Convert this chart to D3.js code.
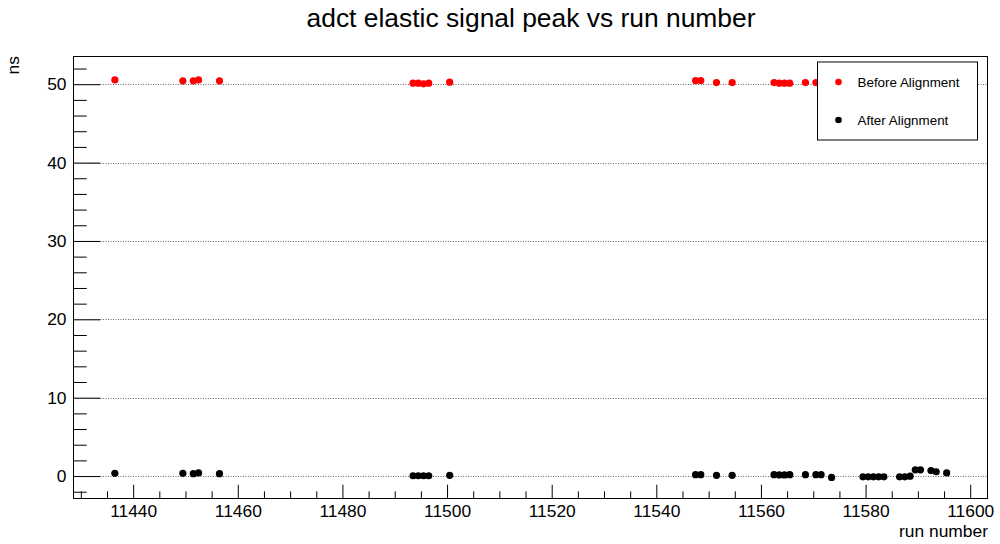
<!DOCTYPE html>
<html>
<head>
<meta charset="utf-8">
<script src="https://cdn.jsdelivr.net/npm/d3@7"></script>
<style>
  html, body { margin: 0; padding: 0; background: #fff; }
  svg { display: block; font-family: "Liberation Sans", Arial, Helvetica, sans-serif; }
</style>
</head>
<body>
<svg id="chart" width="1000" height="544"></svg>
<script>
// Run numbers (each point sits at the centre of its run bin)
const runsBefore = [11436, 11449, 11451, 11452, 11456, 11493, 11494, 11495, 11496, 11500,
                    11547, 11548, 11551, 11554, 11562, 11563, 11564, 11565, 11568, 11570];
const peakBefore = [50.55, 50.43, 50.43, 50.55, 50.43, 50.13, 50.13, 50.05, 50.13, 50.26,
                    50.47, 50.47, 50.21, 50.21, 50.21, 50.13, 50.13, 50.13, 50.21, 50.21];

const runsAfter = [11436, 11449, 11451, 11452, 11456, 11493, 11494, 11495, 11496, 11500,
                   11547, 11548, 11551, 11554, 11562, 11563, 11564, 11565, 11568, 11570,
                   11571, 11573, 11579, 11580, 11581, 11582, 11583, 11586, 11587, 11588,
                   11589, 11590, 11592, 11593, 11595];
const peakAfter = [0.35, 0.35, 0.30, 0.40, 0.30, 0.04, 0.04, 0.04, 0.04, 0.09,
                   0.17, 0.17, 0.09, 0.09, 0.17, 0.15, 0.15, 0.17, 0.17, 0.17,
                   0.17, -0.17, -0.10, -0.10, -0.10, -0.10, -0.10, -0.10, -0.10, -0.02,
                   0.80, 0.80, 0.70, 0.55, 0.40];

const seriesNames = ["Before Alignment", "After Alignment"];
const seriesColors = ["#ff0000", "#000000"];

const xMajorTicks = [11440, 11460, 11480, 11500, 11520, 11540, 11560, 11580, 11600];
const yMajorTicks = [0, 10, 20, 30, 40, 50];

const titleText = "adct elastic signal peak vs run number";
const xTitle = "run number";
const yTitle = "ns";

// ---- layout ----
const frame = { left: 73, right: 988, top: 56, bottom: 498 };
const svg = d3.select("#chart");

const x = d3.scaleLinear().domain([11428.5, 11603.4]).range([frame.left, frame.right]);
const y = d3.scaleLinear().domain([-2.8, 53.6]).range([frame.bottom, frame.top]);

const xMinorTicks = d3.range(11430, 11601, 5).filter(v => !xMajorTicks.includes(v));
const yMinorTicks = d3.range(-2, 53, 2).filter(v => !yMajorTicks.includes(v));

const frameW = frame.right - frame.left;
const frameH = frame.bottom - frame.top;
const xTickLen = 0.03 * frameH;
const yTickLen = 0.03 * frameW;

// horizontal dotted grid
svg.append("g").selectAll("line").data(yMajorTicks).join("line")
  .attr("x1", frame.left).attr("x2", frame.right)
  .attr("y1", d => Math.round(y(d)) + 0.5).attr("y2", d => Math.round(y(d)) + 0.5)
  .attr("stroke", "#666").attr("stroke-width", 1).attr("stroke-dasharray", "1,1.5");

// axes
const xMajor = svg.append("g").attr("transform", `translate(0,${frame.bottom})`)
  .call(d3.axisBottom(x).tickValues(xMajorTicks).tickFormat(d3.format("d"))
        .tickSize(-xTickLen).tickPadding(6.5));
const xMinor = svg.append("g").attr("transform", `translate(0,${frame.bottom})`)
  .call(d3.axisBottom(x).tickValues(xMinorTicks).tickFormat("").tickSize(-xTickLen / 2));
const yMajor = svg.append("g").attr("transform", `translate(${frame.left},0)`)
  .call(d3.axisLeft(y).tickValues(yMajorTicks).tickFormat(d3.format("d"))
        .tickSize(-yTickLen).tickPadding(6.5));
const yMinor = svg.append("g").attr("transform", `translate(${frame.left},0)`)
  .call(d3.axisLeft(y).tickValues(yMinorTicks).tickFormat("").tickSize(-yTickLen / 2));

[xMajor, xMinor, yMajor, yMinor].forEach(g => {
  g.select(".domain").remove();
  g.selectAll(".tick line").attr("stroke", "#000").attr("stroke-width", 1);
  g.selectAll(".tick text").attr("fill", "#000").style("font-size", "17.4px")
    .style("font-family", "'Liberation Sans', Arial, sans-serif");
});

// frame
svg.append("rect")
  .attr("x", frame.left + 0.5).attr("y", frame.top + 0.5)
  .attr("width", frameW - 1).attr("height", frameH)
  .attr("fill", "none").attr("stroke", "#000").attr("stroke-width", 1);

// data points
const before = runsBefore.map((r, i) => ({ run: r, v: peakBefore[i] }));
const after = runsAfter.map((r, i) => ({ run: r, v: peakAfter[i] }));
const binCentre = r => r + 0.5;

svg.append("g").selectAll("circle").data(before).join("circle")
  .attr("cx", d => x(binCentre(d.run))).attr("cy", d => y(d.v))
  .attr("r", 3.6).attr("fill", seriesColors[0]);
svg.append("g").selectAll("circle").data(after).join("circle")
  .attr("cx", d => x(binCentre(d.run))).attr("cy", d => y(d.v))
  .attr("r", 3.6).attr("fill", seriesColors[1]);

// legend
const legend = { x: 817, y: 61.5, w: 160, h: 78 };
svg.append("rect")
  .attr("x", legend.x + 0.5).attr("y", legend.y + 0.5)
  .attr("width", legend.w).attr("height", legend.h)
  .attr("fill", "#fff").attr("stroke", "#000").attr("stroke-width", 1);
const legItems = svg.append("g").selectAll("g").data(seriesNames).join("g")
  .attr("transform", (d, i) => `translate(${legend.x}, ${legend.y + 20.5 + i * 38})`);
legItems.append("circle").attr("cx", 21.5).attr("cy", 0).attr("r", 3.3)
  .attr("fill", (d, i) => seriesColors[i]);
legItems.append("text").attr("x", 40.5).attr("y", 0).attr("dy", "0.35em")
  .style("font-size", "13.4px").attr("fill", "#000").text(d => d);

// titles
svg.append("text").attr("x", 531).attr("y", 27).attr("text-anchor", "middle")
  .style("font-size", "26.4px").attr("fill", "#000").text(titleText);
svg.append("text").attr("x", frame.right).attr("y", 537).attr("text-anchor", "end")
  .style("font-size", "17.4px").attr("fill", "#000").text(xTitle);
svg.append("text").attr("transform", `translate(19,${frame.top}) rotate(-90)`)
  .attr("text-anchor", "end")
  .style("font-size", "17.4px").attr("fill", "#000").text(yTitle);
</script>
</body>
</html>
